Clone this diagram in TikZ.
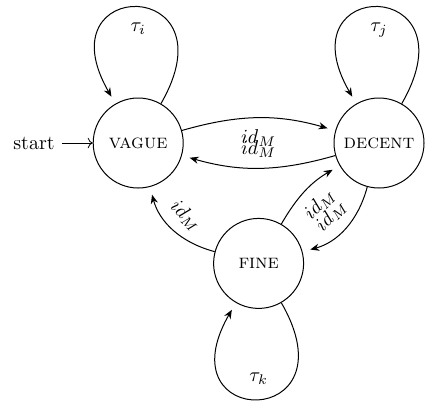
\documentclass[tikz,border=0pt]{standalone}
\usetikzlibrary{arrows.meta}
\begin{document}
\begin{tikzpicture}[
  line width=0.5pt,
  every loop/.style={looseness=8.3},
  statenode/.style={circle, draw, minimum size=45pt, inner sep=0pt, font=\scshape},
  arr/.style={-{Stealth[length=4.5pt,width=3.6pt]}, shorten >=4pt}
]
\useasboundingbox (-69.1pt,71.5pt) rectangle (143.9pt,-130pt);
\node[statenode] (V) at (0,0) {vague};
\node[statenode] (F) at (60.2pt,-60.2pt) {fine};
\node[statenode] (D) at (120.4pt,0) {decent};
\node (st) at (-52.1pt,0) {start};
\draw[->, line width=0.4pt] (st) -- (V);
\path[arr]
  (V) edge[out=60,in=120,loop] node[below=3.7pt] {$\tau_i$} ()
  (D) edge[out=60,in=120,loop] node[below=3.7pt] {$\tau_j$} ()
  (F) edge[out=-60,in=-120,loop] node[above=3.2pt] {$\tau_k$} ()
  (V) edge[bend left=16] node[sloped,below=2pt] {$id_M$} (D)
  (D) edge[bend left=16] node[sloped,above=1.4pt] {$id_M$} (V)
  (F) edge[bend left=15] node[sloped,below=2pt] {$id_M$} (D)
  (D) edge[bend left=30] node[sloped,above=1.4pt] {$id_M$} (F)
  (F) edge[bend left=30] node[sloped,above=1.4pt] {$id_M$} (V);
\end{tikzpicture}
\end{document}
